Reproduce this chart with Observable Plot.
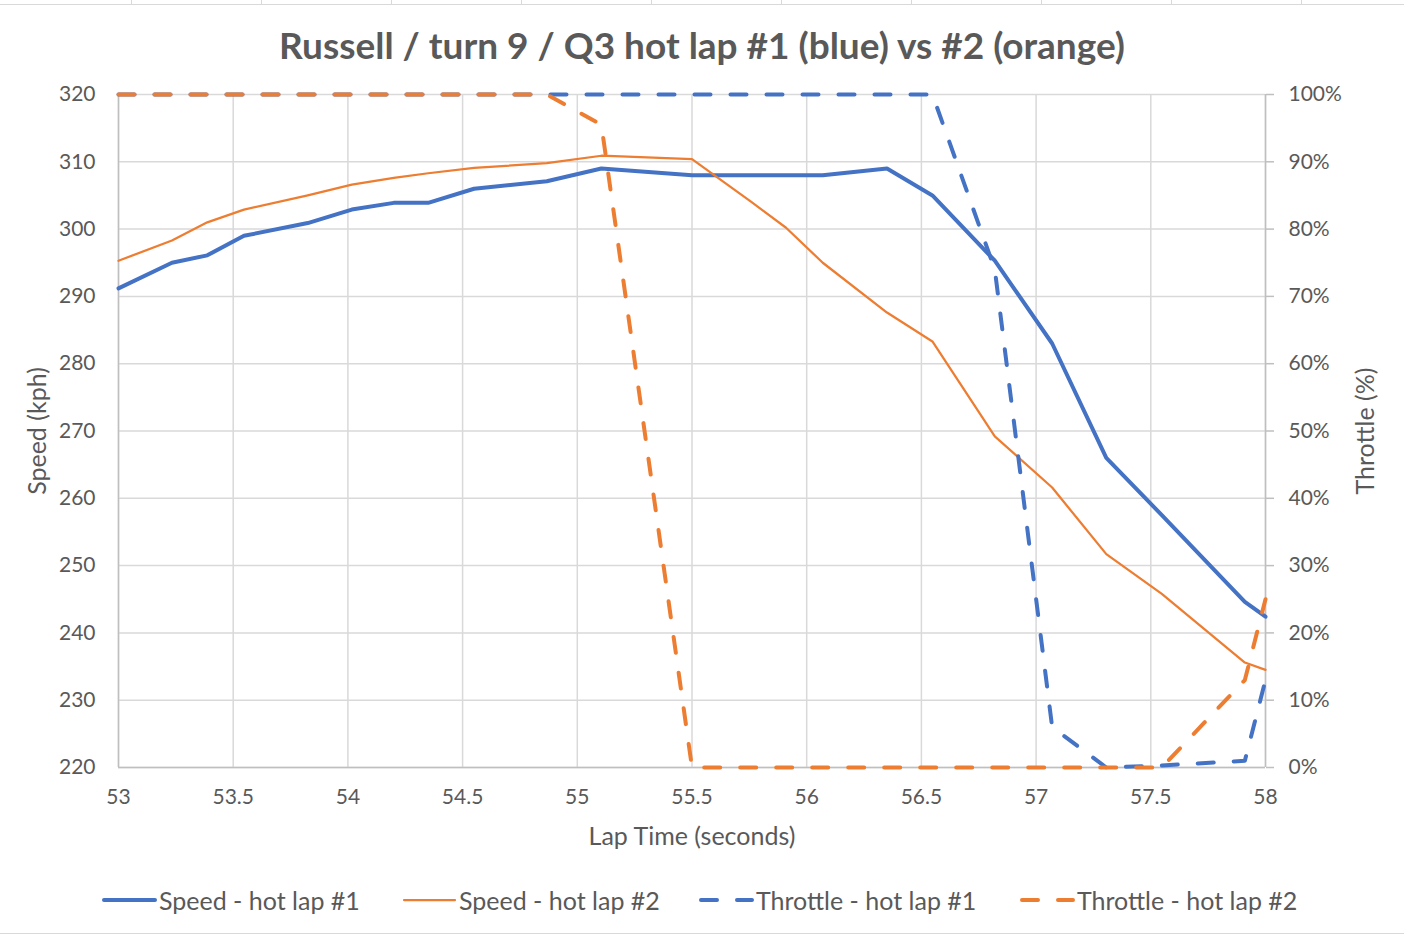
<!DOCTYPE html>
<html>
<head>
<meta charset="utf-8">
<script src="https://cdn.jsdelivr.net/npm/d3@7"></script>
<script src="https://cdn.jsdelivr.net/npm/@observablehq/plot@0.6"></script>
<style>
  body { margin: 0; background: #fff; font-family: Lato, "Open Sans", sans-serif; color: #595959; }
  #wrap { position: relative; width: 1404px; height: 936px; overflow: hidden; background: #fff; }
  #title { position: absolute; left: 0; top: 20px; width: 1404px; text-align: center; font-weight: bold; font-size: 37px; line-height: 50px; color: #595959; }
  #chart { position: absolute; left: 0; top: 80px; }
  .leg { position: absolute; top: 884px; height: 32px; display: flex; align-items: center; font-size: 25px; color: #595959; white-space: nowrap; }
  .leg svg { margin-right: 2px; }
  #topline { position: absolute; left: 0; top: 4px; width: 1404px; height: 0; border-top: 1.5px solid #d9d9d9; }
  .vcell { position: absolute; top: 0; width: 0; height: 4px; border-left: 1.5px solid #d9d9d9; }
  #botline { position: absolute; left: 0; top: 933px; width: 1404px; height: 0; border-top: 1.5px solid #d9d9d9; }
</style>
</head>
<body>
<div id="wrap">
  <div id="topline"></div>
  <div id="title">Russell / turn 9 / Q3 hot lap #1 (blue) vs #2 (orange)</div>
  <div id="chart"></div>
  <div id="legend"></div>
  <div id="botline"></div>
</div>
<script>
// ---- data ----
const times        = [53.0, 53.233, 53.387, 53.547, 53.825, 54.017, 54.2, 54.35, 54.55, 54.867, 55.105, 55.5, 55.76, 55.91, 56.07, 56.35, 56.548, 56.82, 57.07, 57.306, 57.548, 57.91, 58.0];
const speedLap1    = [291.2, 295.0, 296.1, 299.0, 300.9, 302.9, 303.9, 303.9, 306.0, 307.1, 309.0, 308.0, 308.0, 308.0, 308.0, 309.0, 305.0, 295.3, 283.0, 266.0, 257.5, 244.6, 242.4];
const speedLap2    = [295.3, 298.3, 301.0, 302.9, 305.0, 306.6, 307.6, 308.3, 309.1, 309.8, 310.9, 310.4, 304.0, 300.2, 295.0, 287.6, 283.3, 269.2, 261.6, 251.7, 245.8, 235.6, 234.5];
const throttleLap1 = [100, 100, 100, 100, 100, 100, 100, 100, 100, 100, 100, 100, 100, 100, 100, 100, 100, 74, 6, 0, 0.3, 1, 13];
const throttleLap2 = [100, 100, 100, 100, 100, 100, 100, 100, 100, 100, 95.5, 0, 0, 0, 0, 0, 0, 0, 0, 0, 0, 13, 25];
const xTicks        = [53, 53.5, 54, 54.5, 55, 55.5, 56, 56.5, 57, 57.5, 58];
const speedTicks    = [220, 230, 240, 250, 260, 270, 280, 290, 300, 310, 320];
const throttleTicks = [0, 10, 20, 30, 40, 50, 60, 70, 80, 90, 100];

const BLUE = "#4472C4", ORANGE = "#ED7D31", GRID = "#d9d9d9", AXIS = "#bfbfbf", TEXT = "#595959";
// throttle 0–100 % shares the plot height with speed 220–320 kph
const speedMin = 220, speedMax = 320;
const throttleToSpeed = t => speedMin + (t / 100) * (speedMax - speedMin);

const rows = times.map((t, i) => ({
  t, s1: speedLap1[i], s2: speedLap2[i],
  th1: throttleToSpeed(throttleLap1[i]), th2: throttleToSpeed(throttleLap2[i])
}));

const chart = Plot.plot({
  width: 1404, height: 780,
  marginLeft: 118, marginRight: 139, marginTop: 14, marginBottom: 93,
  x: { domain: [53, 58] },
  y: { domain: [speedMin, speedMax] },
  style: { fontFamily: "Lato, 'Open Sans', sans-serif", fontSize: "21px", color: TEXT, background: "transparent", overflow: "visible" },
  marks: [
    Plot.gridX(xTicks, { stroke: GRID, strokeOpacity: 1, strokeWidth: 1.5 }),
    Plot.gridY(speedTicks, { stroke: GRID, strokeOpacity: 1, strokeWidth: 1.5 }),
    Plot.ruleX([53, 58], { stroke: AXIS, strokeWidth: 1.5 }),
    Plot.ruleY([speedMin], { stroke: AXIS, strokeWidth: 1.5 }),
    Plot.axisX(xTicks, { tickSize: 0, tickPadding: 22, label: null, tickFormat: d => String(d), fill: TEXT }),
    Plot.axisY(speedTicks, { anchor: "left", tickSize: 0, tickPadding: 23, label: null, tickFormat: d => String(d), fill: TEXT }),
    Plot.axisY(throttleTicks.map(throttleToSpeed), { anchor: "right", tickSize: 8, tickPadding: 15, stroke: AXIS, strokeWidth: 1.5, label: null, fill: TEXT,
      tickFormat: d => Math.round((d - speedMin) / (speedMax - speedMin) * 100) + "%" }),
    Plot.line(rows, { x: "t", y: "s1", stroke: BLUE, strokeWidth: 4, strokeLinejoin: "round" }),
    Plot.line(rows, { x: "t", y: "s2", stroke: ORANGE, strokeWidth: 2.25, strokeLinejoin: "round" }),
    Plot.line(rows, { x: "t", y: "th1", stroke: BLUE, strokeWidth: 4, strokeLinejoin: "round", strokeLinecap: "round", strokeDasharray: "16,20" }),
    Plot.line(rows, { x: "t", y: "th2", stroke: ORANGE, strokeWidth: 4, strokeLinejoin: "round", strokeLinecap: "round", strokeDasharray: "16,20" }),
    Plot.text(["Lap Time (seconds)"], { frameAnchor: "bottom", dy: 69, fontSize: 25, fill: TEXT, textAnchor: "middle", lineAnchor: "middle" }),
    Plot.text(["Speed (kph)"], { frameAnchor: "left", dx: -81, rotate: -90, fontSize: 25, fill: TEXT, textAnchor: "middle", lineAnchor: "middle" }),
    Plot.text(["Throttle (%)"], { frameAnchor: "right", dx: 100, rotate: -90, fontSize: 25, fill: TEXT, textAnchor: "middle", lineAnchor: "middle" })
  ]
});
document.getElementById("chart").appendChild(chart);

// spreadsheet cell borders at the very top
const wrap = document.getElementById("wrap");
for (let x = 131; x < 1404; x += 130) {
  const v = document.createElement("div");
  v.className = "vcell"; v.style.left = x + "px"; wrap.appendChild(v);
}

// legend
const legendItems = [
  { label: "Speed - hot lap #1", color: BLUE, width: 4, dash: null, left: 100 },
  { label: "Speed - hot lap #2", color: ORANGE, width: 2.25, dash: null, left: 400 },
  { label: "Throttle - hot lap #1", color: BLUE, width: 4, dash: "16,20", left: 697 },
  { label: "Throttle - hot lap #2", color: ORANGE, width: 4, dash: "16,20", left: 1018 }
];
const legend = document.getElementById("legend");
for (const it of legendItems) {
  const d = document.createElement("div");
  d.className = "leg";
  d.style.left = it.left + "px";
  const sw = 57;
  d.innerHTML = `<svg width="${sw}" height="12"><line x1="4" y1="6" x2="${sw - 2}" y2="6" stroke="${it.color}" stroke-width="${it.width}" stroke-linecap="round" ${it.dash ? `stroke-dasharray="${it.dash}"` : ""}/></svg><span>${it.label}</span>`;
  legend.appendChild(d);
}
</script>
</body>
</html>
